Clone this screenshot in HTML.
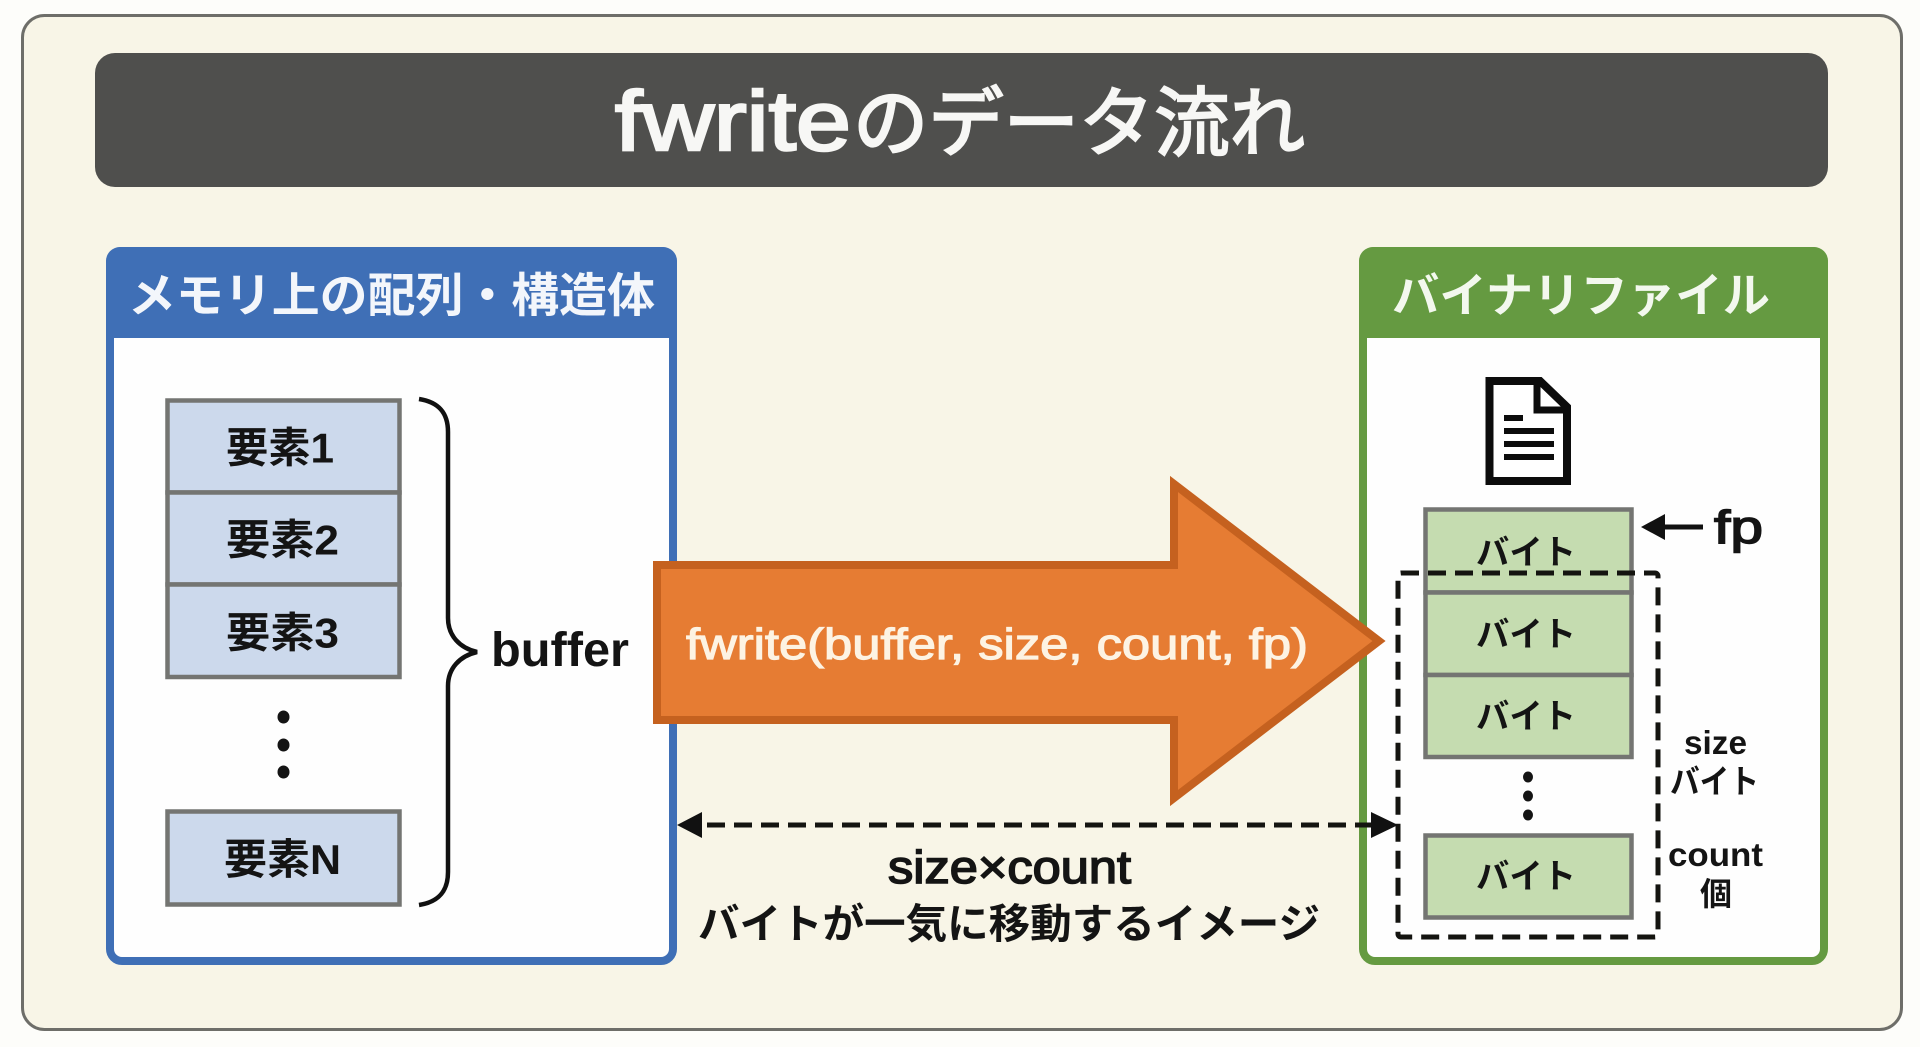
<!DOCTYPE html>
<html lang="ja"><head><meta charset="utf-8"><title>fwriteのデータ流れ</title>
<style>
html,body{margin:0;padding:0;width:1920px;height:1047px;overflow:hidden;background:#fdfdfa}
svg{display:block}
text{font-family:"Liberation Sans","Noto Sans CJK JP",sans-serif;font-weight:bold;fill:#141414}
.box{stroke:#747572;stroke-width:4.5}
.dash{fill:none;stroke:#141410;stroke-width:5}
</style></head><body>
<svg width="1920" height="1047" viewBox="0 0 1920 1047" xmlns="http://www.w3.org/2000/svg">
<rect x="0" y="0" width="1920" height="1047" fill="#fdfdfa"/>
<rect x="22.5" y="15.5" width="1879" height="1014" rx="22" fill="#f8f5e7" stroke="#6e6e69" stroke-width="3"/>

<!-- title -->
<rect x="95" y="53" width="1733" height="134" rx="20" fill="#4f4f4d"/>
<text x="615" y="150" font-size="84" textLength="236" lengthAdjust="spacingAndGlyphs" style="fill:#f7f7f5;font-weight:normal;stroke:#f7f7f5;stroke-width:2.6">fwrite</text>
<text x="853" y="150" font-size="76" textLength="452" lengthAdjust="spacingAndGlyphs" style="fill:#f7f7f5;font-weight:normal;stroke:#f7f7f5;stroke-width:2.2">のデータ流れ</text>

<!-- left panel -->
<rect x="110" y="251" width="563" height="710" rx="12" fill="#fefefe" stroke="#3f6fb6" stroke-width="8"/>
<path d="M106 338V261a14 14 0 0 1 14-14H663a14 14 0 0 1 14 14V338Z" fill="#3f6fb6"/>
<text x="128" y="312" font-size="47" textLength="527" lengthAdjust="spacingAndGlyphs" style="fill:#f3f6fb">メモリ上の配列・構造体</text>

<g class="box" fill="#ccd9ec">
<rect x="167.500" y="400.500" width="232" height="92"/>
<rect x="167.500" y="492.500" width="232" height="92"/>
<rect x="167.500" y="584.500" width="232" height="92.500"/>
<rect x="167.500" y="811.500" width="232" height="93"/>
</g>
<text x="226" y="462.500" font-size="42" textLength="108" lengthAdjust="spacingAndGlyphs">要素1</text>
<text x="226" y="554.500" font-size="42" textLength="113" lengthAdjust="spacingAndGlyphs">要素2</text>
<text x="226" y="647.500" font-size="42" textLength="113" lengthAdjust="spacingAndGlyphs">要素3</text>
<text x="224" y="874" font-size="42" textLength="117" lengthAdjust="spacingAndGlyphs">要素N</text>
<g fill="#141414"><ellipse cx="283.500" cy="717" rx="6" ry="6.500"/><ellipse cx="283.500" cy="745" rx="6" ry="6.500"/><ellipse cx="283.500" cy="772" rx="6" ry="6.500"/></g>

<!-- brace -->
<path d="M419 399C438 402 448 412 448 432V618C448 636 460 648 477 652C460 656 448 668 448 686V872C448 892 438 902 419 905" fill="none" stroke="#111" stroke-width="4.500"/>
<text x="491" y="666" font-size="48" textLength="138" lengthAdjust="spacingAndGlyphs">buffer</text>

<!-- right panel -->
<rect x="1363" y="251" width="461" height="710" rx="12" fill="#fefefe" stroke="#659a41" stroke-width="8"/>
<path d="M1359 338V261a14 14 0 0 1 14-14H1814a14 14 0 0 1 14 14V338Z" fill="#659a41"/>
<text x="1392" y="312" font-size="47" textLength="378" lengthAdjust="spacingAndGlyphs" style="fill:#f3f8ee">バイナリファイル</text>

<!-- document icon -->
<path d="M1489.500 381H1540L1567 407V481H1489.500Z" fill="#fff" stroke="#0c0c0c" stroke-width="8"/>
<path d="M1537 380V410H1567" fill="none" stroke="#0c0c0c" stroke-width="7"/>
<g fill="#0c0c0c"><rect x="1504" y="415" width="19" height="6"/><rect x="1504" y="428" width="50" height="6"/><rect x="1504" y="441" width="50" height="6"/><rect x="1504" y="454" width="50" height="6"/></g>

<!-- byte boxes -->
<g class="box" fill="#c5dcb0">
<rect x="1425.500" y="509.500" width="206" height="83"/>
<rect x="1425.500" y="592.500" width="206" height="82.500"/>
<rect x="1425.500" y="675" width="206" height="82"/>
<rect x="1425.500" y="835.500" width="206" height="82"/>
</g>
<text x="1476" y="564" font-size="34" textLength="100" lengthAdjust="spacingAndGlyphs">バイト</text>
<text x="1476" y="646" font-size="34" textLength="100" lengthAdjust="spacingAndGlyphs">バイト</text>
<text x="1476" y="728" font-size="34" textLength="100" lengthAdjust="spacingAndGlyphs">バイト</text>
<text x="1476" y="888" font-size="34" textLength="100" lengthAdjust="spacingAndGlyphs">バイト</text>
<g fill="#141414"><ellipse cx="1528" cy="777" rx="5" ry="5.500"/><ellipse cx="1528" cy="796" rx="5" ry="5.500"/><ellipse cx="1528" cy="815" rx="5" ry="5.500"/></g>

<!-- dashed selection -->
<rect class="dash" x="1398" y="573" width="260" height="364" rx="3" stroke-dasharray="18 9"/>

<!-- fp pointer -->
<path d="M1641 527L1665 514V524.500H1703V529.500H1665V540Z" fill="#111"/>
<text x="1714" y="543" font-size="46" textLength="49" lengthAdjust="spacingAndGlyphs" style="font-weight:normal;stroke:#141414;stroke-width:1.5">fp</text>

<text x="1684" y="754" font-size="33" textLength="63" lengthAdjust="spacingAndGlyphs">size</text>
<text x="1670" y="793" font-size="33" textLength="89" lengthAdjust="spacingAndGlyphs">バイト</text>
<text x="1668" y="866" font-size="33" textLength="95" lengthAdjust="spacingAndGlyphs">count</text>
<text x="1700" y="905" font-size="32">個</text>

<!-- big arrow -->
<path d="M657 565H1174V484L1379 641L1174 798V720H657Z" fill="#e67c33" stroke="#c5611f" stroke-width="8" stroke-linejoin="miter" stroke-miterlimit="10"/>
<text x="686" y="659" font-size="44" textLength="622" lengthAdjust="spacingAndGlyphs" style="fill:#fdf3e3;font-weight:normal;stroke:#fdf3e3;stroke-width:1.2">fwrite(buffer, size, count, fp)</text>

<!-- dashed double arrow -->
<line class="dash" x1="707" y1="825" x2="1371" y2="825" stroke-dasharray="18 9"/>
<path d="M677 825L702 812V838Z" fill="#111"/>
<path d="M1398 825L1371 812V838Z" fill="#111"/>
<text x="888" y="883" font-size="46" textLength="243" lengthAdjust="spacingAndGlyphs" style="font-weight:normal;stroke:#141414;stroke-width:1.6">size×count</text>
<text x="698" y="938" font-size="41" textLength="622" lengthAdjust="spacingAndGlyphs">バイトが一気に移動するイメージ</text>
</svg>
</body></html>
